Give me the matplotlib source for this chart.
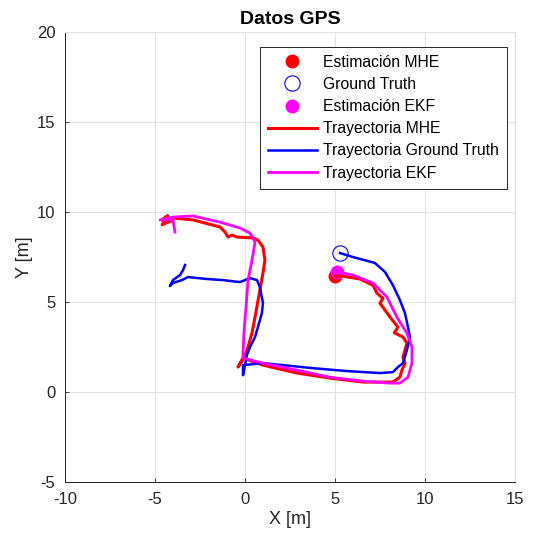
import numpy as np
import matplotlib
matplotlib.use('Agg')
import matplotlib.pyplot as plt

plt.rcParams['font.family'] = ['Liberation Sans', 'DejaVu Sans']
plt.rcParams['axes.unicode_minus'] = False

# MHE estimate (red)
mhe_x = [5.0, 5.44, 6.39, 7.11, 7.33, 7.67, 7.5, 8.06, 8.5, 8.3, 8.78, 9.0, 8.78, 8.9, 8.72, 8.61,
         8.22, 6.56, 4.72, 2.89, 1.0, -0.11, -0.39, 0.0, 0.17, 0.39, 0.56, 0.83, 1.0,
         1.11, 1.0, 0.72, 0.44, -0.44, -0.72, -0.94, -1.11, -1.39, -2.89, -4.0, -4.61,
         -4.3, -4.6, -4.1, -4.5]
mhe_y = [6.44, 6.44, 6.28, 5.94, 5.5, 5.2, 4.94, 4.17, 3.61, 3.3, 3.06, 2.72, 1.94, 1.6, 1.22, 0.83,
         0.56, 0.56, 0.78, 1.06, 1.5, 1.89, 1.39, 2.0, 2.5, 3.28, 4.17, 5.67, 6.61,
         7.33, 8.06, 8.44, 8.56, 8.61, 8.72, 8.61, 8.89, 9.17, 9.56, 9.67, 9.56,
         9.8, 9.3, 9.5, 9.6]

# EKF estimate (magenta)
ekf_x = [5.11, 6.0, 7.11, 7.89, 8.44, 9.0, 9.28, 9.28, 9.06, 8.61, 8.06, 6.56, 4.72,
         2.89, 1.0, -0.11, -0.11, -0.06, 0.06, 0.17, 0.39, 0.56, 0.28, -0.28, -1.39,
         -2.89, -4.0, -4.72, -4.0, -3.89]
ekf_y = [6.67, 6.5, 6.06, 5.28, 4.17, 3.28, 2.5, 1.61, 0.83, 0.5, 0.5, 0.61, 0.83,
         1.22, 1.61, 1.89, 2.06, 3.28, 4.72, 6.22, 7.33, 8.33, 8.83, 9.11, 9.44,
         9.78, 9.72, 9.56, 9.56, 8.89]

# Ground truth (blue)
gt_x = [5.28, 6.0, 7.22, 7.78, 8.22, 8.61, 8.89, 9.06, 9.17, 9.0, 8.78, 8.5, 8.22,
        7.5, 5.67, 3.78, 2.11, 1.0, -0.11, -0.11, 0.11, 0.28, 0.56, 0.72, 0.94, 1.0,
        0.83, 0.67, 0.28, -0.28, -1.22, -2.11, -3.17, -3.5, -4.0, -4.17, -4.0, -3.61,
        -3.44, -3.33]
gt_y = [7.72, 7.5, 7.17, 6.67, 5.94, 5.11, 4.39, 3.61, 3.06, 2.33, 1.61, 1.39, 1.11,
        1.06, 1.17, 1.33, 1.5, 1.61, 1.5, 0.94, 2.06, 2.5, 3.06, 3.61, 4.39, 4.94,
        5.83, 6.22, 6.33, 6.11, 6.22, 6.28, 6.39, 6.22, 6.06, 5.89, 6.22, 6.5,
        6.78, 7.06]

fig, ax = plt.subplots(figsize=(5.33, 5.40), dpi=100)
fig.subplots_adjust(left=0.122, right=0.966, bottom=0.107, top=0.941)

# start markers
ax.plot(mhe_x[0], mhe_y[0], 'o', color='red', markersize=9, label='Estimación MHE')
ax.plot(gt_x[0], gt_y[0], 'o', mfc='none', mec='blue', markersize=11, mew=0.8,
        label='Ground Truth')
ax.plot(ekf_x[0], ekf_y[0], 'o', color='magenta', markersize=9, label='Estimación EKF')

ax.plot(mhe_x, mhe_y, color='red', lw=2.2, label='Trayectoria MHE')
ax.plot(gt_x, gt_y, color='blue', lw=1.8, label='Trayectoria Ground Truth')
ax.plot(ekf_x, ekf_y, color='magenta', lw=2.0, label='Trayectoria EKF')

ax.set_xlim(-10, 15)
ax.set_ylim(-5, 20)
ax.set_xticks(np.arange(-10, 16, 5))
ax.set_yticks(np.arange(-5, 21, 5))
ax.grid(True, color='#e3e3e3', lw=0.8)
ax.set_axisbelow(True)
ax.tick_params(direction='in', length=3, width=0.6, labelsize=12, colors='#262626', pad=7)
for side in ['left', 'bottom']:
    ax.spines[side].set_color('#262626')
    ax.spines[side].set_linewidth(0.7)
for side in ['top', 'right']:
    ax.spines[side].set_color('#e3e3e3')
    ax.spines[side].set_linewidth(0.8)

ax.set_title('Datos GPS', fontsize=14, fontweight='bold', pad=6)
ax.set_xlabel('X [m]', fontsize=13, color='#262626', labelpad=3)
ax.set_ylabel('Y [m]', fontsize=13, color='#262626', labelpad=3)

leg = ax.legend(loc='upper right', fontsize=11.3, handlelength=3.1, handletextpad=0.4,
                labelspacing=0.46, fancybox=False, edgecolor='#262626', framealpha=1,
                borderpad=0.5, bbox_to_anchor=(0.982, 0.967), borderaxespad=0.0)
leg.get_frame().set_linewidth(0.7)

fig.savefig('out.png', dpi=100)
